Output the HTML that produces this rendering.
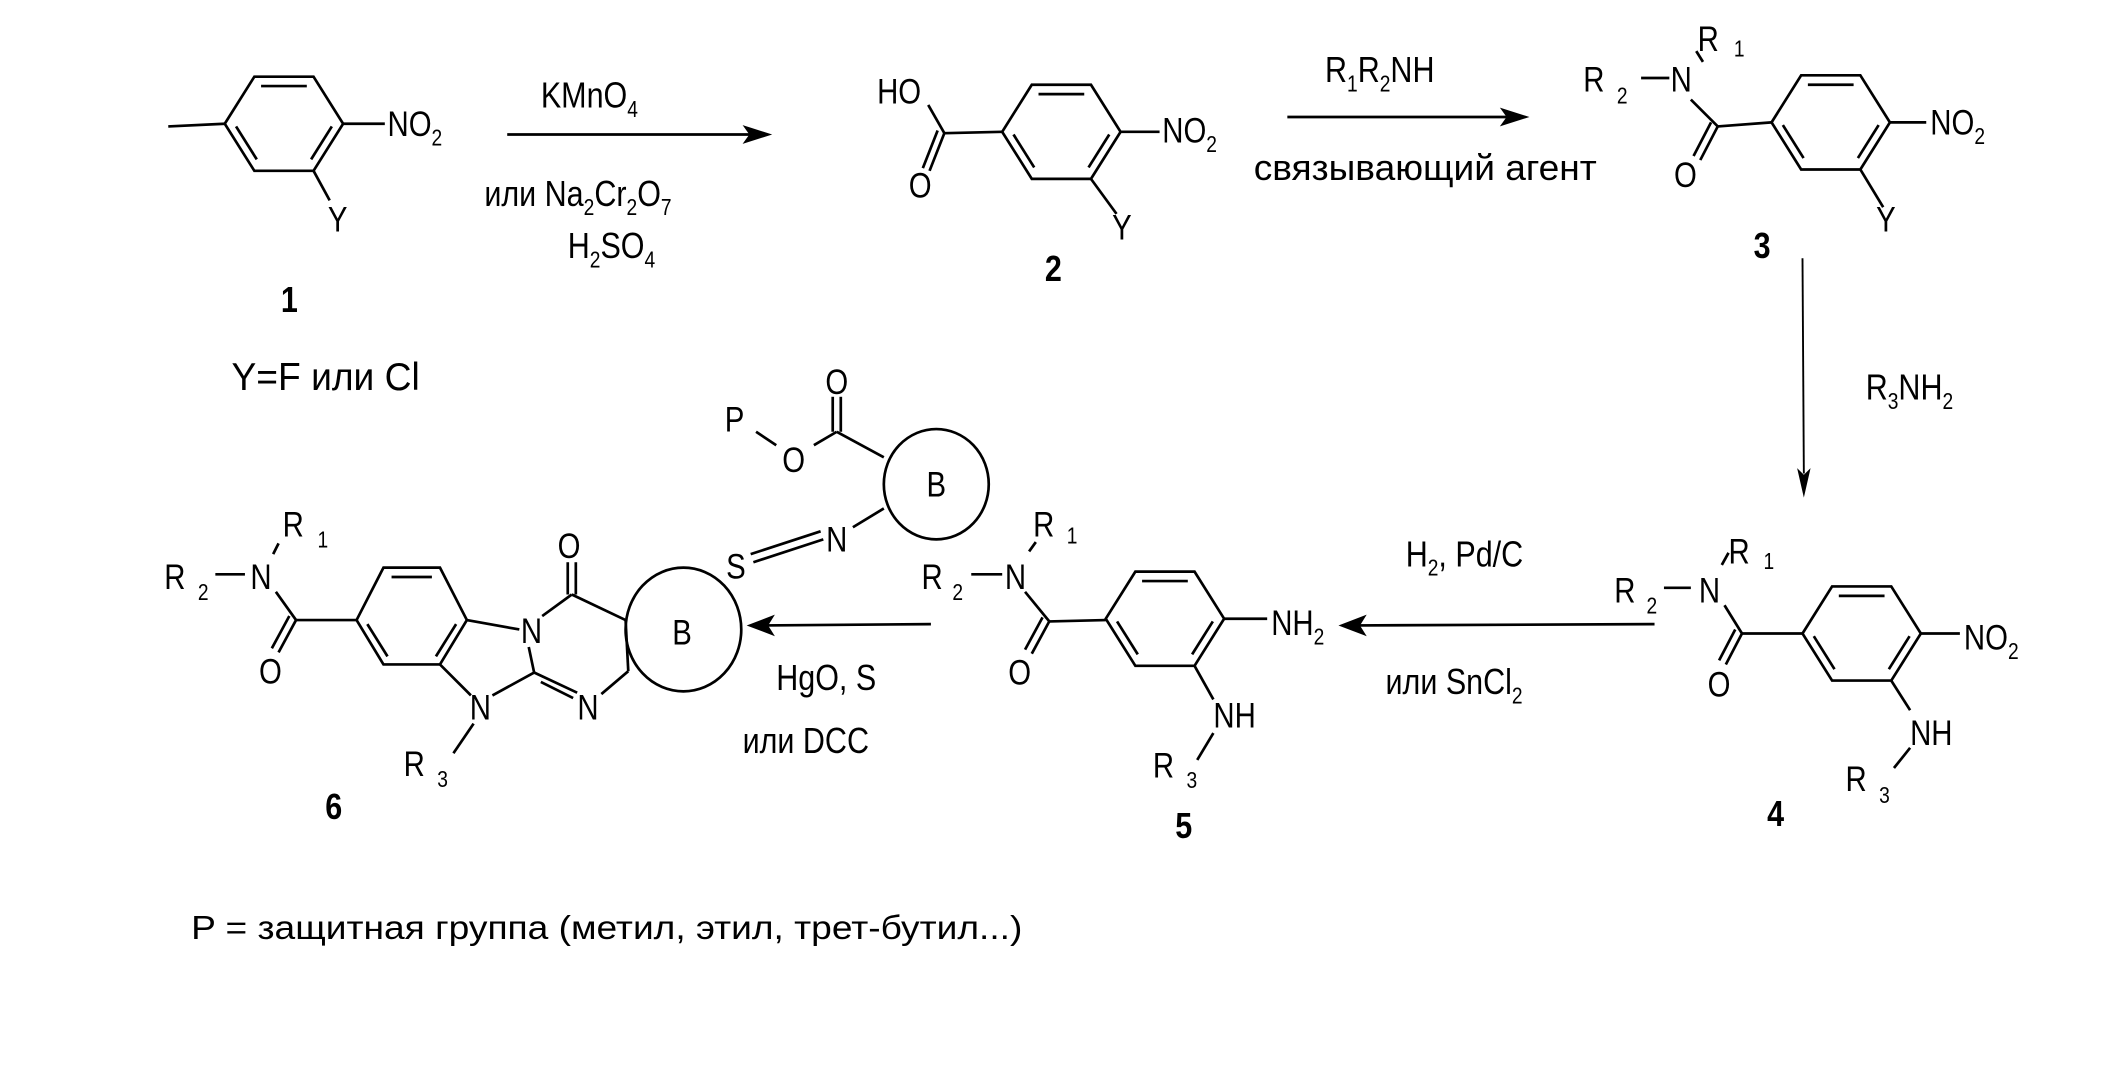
<!DOCTYPE html>
<html><head><meta charset="utf-8"><style>
html,body{margin:0;padding:0;background:#fff;}
svg{display:block;}
text{font-family:"Liberation Sans",sans-serif;fill:#000;transform-box:fill-box;transform-origin:left center;transform:scaleX(.84);}
text.m{transform-origin:center center;}
text.n{transform:none;}
.a{font-size:26px;}
.s{font-size:17px;}
.b{font-size:27px;font-weight:bold;}
.r{font-size:27px;}
</style></head><body>
<svg width="2112" height="1072" viewBox="0 0 1570 797" xmlns="http://www.w3.org/2000/svg">
<defs>
<g id="ring" fill="none" stroke="#000" stroke-width="2">
<polygon points="-44,0 -22,-35 22,-35 44,0 22,35 -22,35"/>
<line x1="-17" y1="-28" x2="17" y2="-28"/>
<line x1="35.6" y1="2" x2="20.2" y2="26.5"/>
<line x1="-35.6" y1="2" x2="-20.2" y2="26.5"/>
</g>
</defs>
<g stroke="#000" stroke-width="2" fill="none">
<line x1="125" y1="94" x2="167" y2="92"/>
<line x1="255" y1="92" x2="286" y2="92"/>
<line x1="233" y1="127" x2="245" y2="149"/>
<line x1="377" y1="100" x2="560" y2="100"/>
<line x1="702" y1="99" x2="745" y2="98"/>
<line x1="702" y1="99" x2="690" y2="78"/>
<line x1="702" y1="99" x2="691" y2="127"/>
<line x1="697" y1="97" x2="686" y2="125"/>
<line x1="833" y1="98" x2="862" y2="98"/>
<line x1="811" y1="133" x2="830" y2="159"/>
<line x1="957" y1="87" x2="1122" y2="87"/>
<line x1="1220" y1="58" x2="1241" y2="58"/>
<line x1="1261" y1="38" x2="1266" y2="46"/>
<line x1="1257" y1="74" x2="1277" y2="94"/>
<line x1="1277" y1="94" x2="1317" y2="91"/>
<line x1="1277" y1="94" x2="1264" y2="119"/>
<line x1="1272" y1="91" x2="1259" y2="116"/>
<line x1="1405" y1="91" x2="1432" y2="91"/>
<line x1="1383" y1="126" x2="1400" y2="154"/>
<line x1="1340" y1="192" x2="1341" y2="352" stroke-width="1.4"/>
<line x1="1237" y1="437" x2="1257" y2="437"/>
<line x1="1280" y1="420" x2="1285" y2="411"/>
<line x1="1282" y1="450" x2="1295" y2="471"/>
<line x1="1295" y1="471" x2="1340" y2="471"/>
<line x1="1295" y1="471" x2="1283" y2="494"/>
<line x1="1290" y1="468" x2="1278" y2="491"/>
<line x1="1428" y1="471" x2="1457" y2="471"/>
<line x1="1406" y1="506" x2="1420" y2="528"/>
<line x1="1420" y1="556" x2="1408" y2="571"/>
<line x1="1230" y1="464" x2="1008" y2="465"/>
<line x1="722" y1="427" x2="745" y2="427"/>
<line x1="765" y1="410" x2="770" y2="403"/>
<line x1="762" y1="440" x2="780" y2="462"/>
<line x1="780" y1="462" x2="822" y2="461"/>
<line x1="780" y1="462" x2="767" y2="486"/>
<line x1="775" y1="459" x2="762" y2="483"/>
<line x1="910" y1="460" x2="942" y2="460"/>
<line x1="888" y1="495" x2="902" y2="520"/>
<line x1="902" y1="545" x2="890" y2="565"/>
<line x1="692" y1="464" x2="568" y2="465"/>
<line x1="160" y1="427" x2="182" y2="427"/>
<line x1="203" y1="412" x2="207" y2="404"/>
<line x1="205" y1="440" x2="220" y2="461"/>
<line x1="220" y1="461" x2="265" y2="461"/>
<line x1="220" y1="461" x2="207" y2="485"/>
<line x1="215" y1="458" x2="202" y2="482"/>
<polygon points="265,461 285,422 327,422 347,461 327,494 285,494"/>
<line x1="291" y1="429" x2="321" y2="429"/>
<line x1="273" y1="464" x2="288" y2="488"/>
<line x1="339" y1="464" x2="324" y2="488"/>
<line x1="347" y1="461" x2="386" y2="468"/>
<line x1="327" y1="494" x2="350" y2="517"/>
<line x1="393" y1="481" x2="397" y2="500"/>
<line x1="397" y1="500" x2="366" y2="517"/>
<line x1="397" y1="500" x2="429" y2="515"/>
<line x1="402" y1="507" x2="426" y2="519"/>
<line x1="403" y1="458" x2="425" y2="442"/>
<line x1="425" y1="442" x2="465" y2="461"/>
<line x1="465" y1="461" x2="467" y2="499"/>
<line x1="467" y1="499" x2="447" y2="516"/>
<line x1="422" y1="442" x2="422" y2="418"/>
<line x1="428" y1="442" x2="428" y2="418"/>
<line x1="352" y1="538" x2="337" y2="560"/>
<ellipse cx="508" cy="468" rx="43" ry="46"/>
<line x1="562" y1="321" x2="577" y2="331"/>
<line x1="605" y1="331" x2="622" y2="321"/>
<line x1="619" y1="321" x2="619" y2="295"/>
<line x1="625" y1="321" x2="625" y2="295"/>
<line x1="622" y1="321" x2="657" y2="340"/>
<line x1="657" y1="378" x2="634" y2="392"/>
<line x1="558" y1="412" x2="610" y2="395"/>
<line x1="560" y1="418" x2="612" y2="401"/>
<ellipse cx="696" cy="360" rx="39" ry="41"/>
</g>
<use href="#ring" x="211" y="92"/>
<use href="#ring" x="789" y="98"/>
<use href="#ring" x="1361" y="91"/>
<use href="#ring" x="1384" y="471"/>
<use href="#ring" x="866" y="460"/>
<g fill="#000">
<polygon points="574,100 552,93 557,100 552,107"/>
<polygon points="1137,87 1115,80 1120,87 1115,94"/>
<polygon points="1341,370 1336,348 1341,353 1346,348"/>
<polygon points="995,465 1016,457 1011,465 1016,473"/>
<polygon points="555,465 576,457 571,465 576,473"/>
</g>
<text class="a" x="288" y="101">NO<tspan class="s" dy="7">2</tspan></text>
<text class="a m" x="251" y="172" text-anchor="middle">Y</text>
<text class="b m" x="215" y="232" text-anchor="middle">1</text>
<text class="n" x="172" y="290" font-size="29" textLength="140" lengthAdjust="spacingAndGlyphs">Y=F или Cl</text>
<text class="r" x="402" y="80">KMnO<tspan class="s" dy="7">4</tspan></text>
<text class="r" x="360" y="153">или Na<tspan class="s" dy="7">2</tspan><tspan dy="-7">Cr</tspan><tspan class="s" dy="7">2</tspan><tspan dy="-7">O</tspan><tspan class="s" dy="7">7</tspan></text>
<text class="r" x="422" y="192">H<tspan class="s" dy="7">2</tspan><tspan dy="-7">SO</tspan><tspan class="s" dy="7">4</tspan></text>
<text class="a" x="652" y="77">HO</text>
<text class="a m" x="684" y="147" text-anchor="middle">O</text>
<text class="a" x="864" y="106">NO<tspan class="s" dy="7">2</tspan></text>
<text class="a m" x="834" y="178" text-anchor="middle">Y</text>
<text class="b m" x="783" y="209" text-anchor="middle">2</text>
<text class="r" x="985" y="61">R<tspan class="s" dy="7">1</tspan><tspan dy="-7">R</tspan><tspan class="s" dy="7">2</tspan><tspan dy="-7">NH</tspan></text>
<text class="n" x="932" y="134" font-size="27" textLength="255" lengthAdjust="spacingAndGlyphs">связывающий агент</text>
<text class="a" x="1177" y="68">R</text><text class="s" x="1202" y="77">2</text>
<text class="a" x="1242" y="68">N</text>
<text class="a" x="1262" y="38">R</text><text class="s" x="1289" y="42">1</text>
<text class="a m" x="1253" y="139" text-anchor="middle">O</text>
<text class="a" x="1435" y="100">NO<tspan class="s" dy="7">2</tspan></text>
<text class="a m" x="1402" y="172" text-anchor="middle">Y</text>
<text class="b m" x="1310" y="192" text-anchor="middle">3</text>
<text class="r" x="1387" y="297">R<tspan class="s" dy="7">3</tspan><tspan dy="-7">NH</tspan><tspan class="s" dy="7">2</tspan></text>
<text class="a" x="1285" y="419">R</text><text class="s" x="1311" y="423">1</text>
<text class="a" x="1200" y="448">R</text><text class="s" x="1224" y="456">2</text>
<text class="a" x="1263" y="448">N</text>
<text class="a m" x="1278" y="518" text-anchor="middle">O</text>
<text class="a" x="1460" y="483">NO<tspan class="s" dy="7">2</tspan></text>
<text class="a" x="1420" y="554">NH</text>
<text class="a" x="1372" y="588">R</text><text class="s" x="1397" y="597">3</text>
<text class="b m" x="1320" y="614" text-anchor="middle">4</text>
<text class="r" x="1045" y="421">H<tspan class="s" dy="7">2</tspan><tspan dy="-7">, Pd/C</tspan></text>
<text class="r" x="1030" y="516">или SnCl<tspan class="s" dy="7">2</tspan></text>
<text class="a" x="685" y="438">R</text><text class="s" x="708" y="446">2</text>
<text class="a" x="747" y="438">N</text>
<text class="a" x="768" y="399">R</text><text class="s" x="793" y="404">1</text>
<text class="a m" x="758" y="509" text-anchor="middle">O</text>
<text class="a" x="945" y="472">NH<tspan class="s" dy="7">2</tspan></text>
<text class="a" x="902" y="541">NH</text>
<text class="a" x="857" y="578">R</text><text class="s" x="882" y="586">3</text>
<text class="b m" x="880" y="623" text-anchor="middle">5</text>
<text class="r" x="577" y="513">HgO, S</text>
<text class="r" x="552" y="560">или  DCC</text>
<text class="a" x="122" y="438">R</text><text class="s" x="147" y="446">2</text>
<text class="a" x="186" y="438">N</text>
<text class="a" x="210" y="399">R</text><text class="s" x="236" y="407">1</text>
<text class="a m" x="201" y="508" text-anchor="middle">O</text>
<text class="a m" x="395" y="478" text-anchor="middle">N</text>
<text class="a m" x="423" y="415" text-anchor="middle">O</text>
<text class="a m" x="357" y="535" text-anchor="middle">N</text>
<text class="a m" x="437" y="535" text-anchor="middle">N</text>
<text class="a m" x="507" y="479" text-anchor="middle">B</text>
<text class="a" x="300" y="577">R</text><text class="s" x="325" y="585">3</text>
<text class="b m" x="248" y="609" text-anchor="middle">6</text>
<text class="a m" x="546" y="321" text-anchor="middle">P</text>
<text class="a m" x="590" y="351" text-anchor="middle">O</text>
<text class="a m" x="622" y="293" text-anchor="middle">O</text>
<text class="a m" x="547" y="430" text-anchor="middle">S</text>
<text class="a m" x="622" y="410" text-anchor="middle">N</text>
<text class="a m" x="696" y="369" text-anchor="middle">B</text>
<text class="n" x="142" y="698" font-size="25" textLength="618" lengthAdjust="spacingAndGlyphs">P = защитная группа (метил, этил, трет-бутил...)</text>
</svg>
</body></html>
